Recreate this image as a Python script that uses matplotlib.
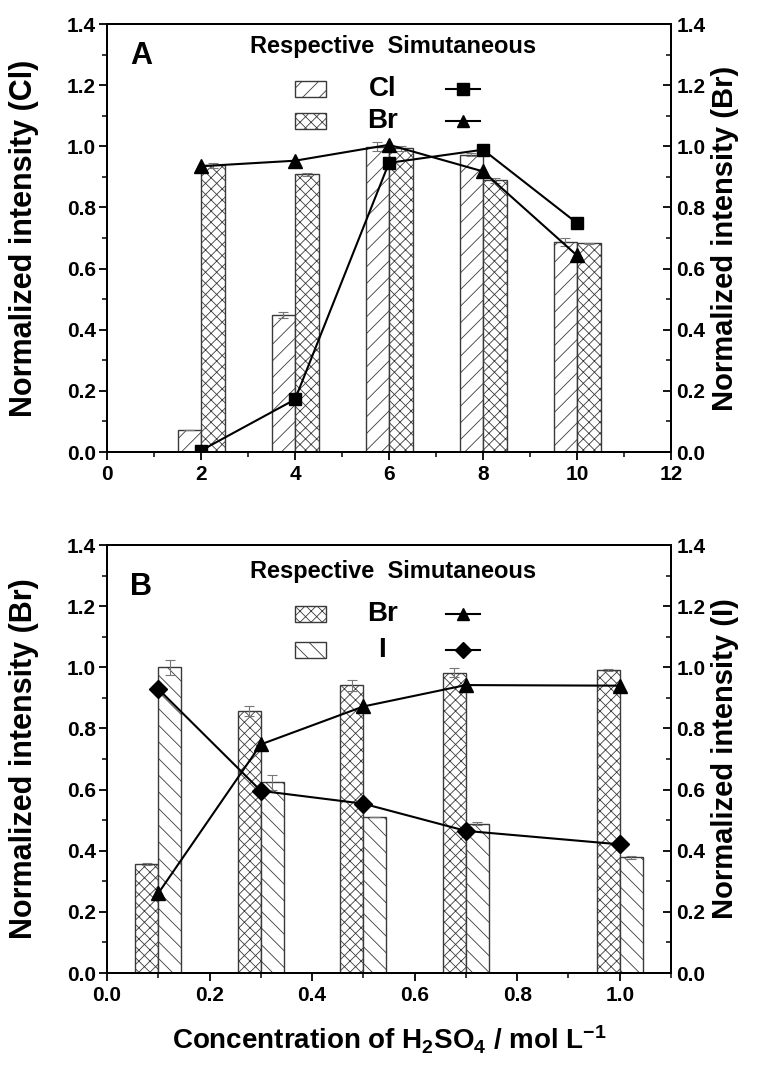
import matplotlib
matplotlib.use("Agg")
import matplotlib.pyplot as plt
from matplotlib.patches import Rectangle
from matplotlib.ticker import MultipleLocator

# panel A: H2SO4 concentration (mol/L) vs normalized intensity
conc_a = [2, 4, 6, 8, 10]
cl_resp = [0.071, 0.449, 0.999, 0.973, 0.688]
cl_resp_err = [0.0, 0.010, 0.014, 0.005, 0.013]
br_resp_a = [0.938, 0.908, 0.993, 0.889, 0.683]
br_resp_a_err = [0.008, 0.004, 0.009, 0.008, 0.002]
cl_sim = [0.005, 0.172, 0.946, 0.989, 0.749]
br_sim_a = [0.935, 0.953, 1.005, 0.918, 0.643]

# panel B
conc_b = [0.1, 0.3, 0.5, 0.7, 1.0]
br_resp_b = [0.357, 0.857, 0.941, 0.982, 0.990]
br_resp_b_err = [0.003, 0.016, 0.017, 0.015, 0.003]
i_resp = [1.0, 0.624, 0.509, 0.489, 0.378]
i_resp_err = [0.024, 0.025, 0.0, 0.004, 0.004]
br_sim_b = [0.261, 0.748, 0.872, 0.942, 0.940]
i_sim = [0.929, 0.596, 0.554, 0.465, 0.421]

yticks = [0.0, 0.2, 0.4, 0.6, 0.8, 1.0, 1.2, 1.4]

arial = ["Liberation Sans", "DejaVu Sans"]

plt.rcParams["hatch.linewidth"] = 0.6
plt.rcParams["mathtext.default"] = "regular"

EDGE = "#3a3a3a"
ERR = "#777777"


def style_axes(ax, axr, xmax, xmajor, xminor, xfmt, left_label, right_label):
    ax.set_xlim(0, xmax)
    ax.set_ylim(0, 1.4)
    axr.set_ylim(0, 1.4)
    ax.set_yticks(yticks)
    axr.set_yticks(yticks)
    ax.yaxis.set_minor_locator(MultipleLocator(0.1))
    axr.yaxis.set_minor_locator(MultipleLocator(0.1))
    ax.xaxis.set_major_locator(MultipleLocator(xmajor))
    ax.xaxis.set_minor_locator(MultipleLocator(xminor))
    ax.set_yticklabels(["%.1f" % v for v in yticks])
    axr.set_yticklabels(["%.1f" % v for v in yticks])
    ax.set_xticklabels([xfmt % v for v in ax.get_xticks()])
    ax.tick_params(axis="both", which="major", direction="out", length=6, width=1.3, top=False, right=False)
    ax.tick_params(axis="both", which="minor", direction="out", length=3.5, width=1.1, top=False, right=False)
    ax.tick_params(axis="y", which="major", pad=2)
    axr.tick_params(axis="y", which="major", direction="in", length=6, width=1.3, pad=4)
    axr.tick_params(axis="y", which="minor", direction="in", length=3.5, width=1.1)
    for a in (ax, axr):
        for lab in a.get_xticklabels() + a.get_yticklabels():
            lab.set_family(arial)
            lab.set_fontweight("bold")
            lab.set_fontsize(15)
        for s in a.spines.values():
            s.set_linewidth(1.4)
    ax.set_ylabel(left_label, family=arial, fontweight="bold", fontsize=22, labelpad=20)
    axr.set_ylabel(right_label, family=arial, fontweight="bold", fontsize=21, labelpad=4)


def draw_key(ax, letter, letter_y, rows, row_ys):
    ax.text(0.061, letter_y, letter, transform=ax.transAxes, ha="center", va="center",
            family=arial, fontweight="bold", fontsize=22)
    ax.text(0.507, row_ys[0] + 0.099, "Respective  Simutaneous", transform=ax.transAxes,
            ha="center", va="center", family=arial, fontweight="bold", fontsize=17)
    for (hatch, name, marker, ms), y in zip(rows, row_ys):
        ax.add_patch(Rectangle((0.333, y - 0.019), 0.055, 0.038, transform=ax.transAxes,
                               facecolor="white", edgecolor=EDGE, hatch=hatch, linewidth=1.0, zorder=5))
        ax.text(0.488, y, name, transform=ax.transAxes, ha="center", va="center",
                family=arial, fontweight="bold", fontsize=20, zorder=5)
        ax.plot([0.601, 0.661], [y, y], transform=ax.transAxes, color="black", lw=1.5, zorder=5)
        ax.plot([0.631], [y], transform=ax.transAxes, color="black", marker=marker, ms=ms, zorder=6)


def bars(ax, x, vals, errs, width, hatch, offset):
    pos = [v + offset for v in x]
    ax.bar(pos, vals, width, facecolor="white", edgecolor=EDGE, hatch=hatch, linewidth=1.0,
           zorder=2)
    ax.errorbar(pos, vals, yerr=errs, fmt="none", ecolor=ERR, elinewidth=0.8, capsize=3.5,
                capthick=0.8, zorder=3)


fig = plt.figure(figsize=(7.66, 10.74), dpi=100)
ax1 = fig.add_axes([0.1397, 0.5791, 0.7363, 0.3985])
ax2 = fig.add_axes([0.1397, 0.0940, 0.7363, 0.3985])
ax1r = ax1.twinx()
ax2r = ax2.twinx()

# ---- panel A
w_a = 0.5
bars(ax1, conc_a, cl_resp, cl_resp_err, w_a, "//", -w_a / 2)
bars(ax1, conc_a, br_resp_a, br_resp_a_err, w_a, "xxx", w_a / 2)
ax1r.plot(conc_a, cl_sim, color="black", lw=1.5, marker="s", ms=9, zorder=4)
ax1r.plot(conc_a, br_sim_a, color="black", lw=1.5, marker="^", ms=10, zorder=4)
style_axes(ax1, ax1r, 12, 2, 1, "%d", "Normalized intensity (Cl)", "Normalized intensity (Br)")
draw_key(ax1, "A", 0.926, [("//", "Cl", "s", 8), ("xxx", "Br", "^", 9)], [0.848, 0.773])

# ---- panel B
w_b = 0.045
bars(ax2, conc_b, br_resp_b, br_resp_b_err, w_b, "xxx", -w_b / 2)
bars(ax2, conc_b, i_resp, i_resp_err, w_b, "\\\\", w_b / 2)
ax2r.plot(conc_b, br_sim_b, color="black", lw=1.5, marker="^", ms=10, zorder=4)
ax2r.plot(conc_b, i_sim, color="black", lw=1.5, marker="D", ms=9, zorder=4)
style_axes(ax2, ax2r, 1.1, 0.2, 0.1, "%.1f", "Normalized intensity (Br)", "Normalized intensity (I)")
draw_key(ax2, "B", 0.902, [("xxx", "Br", "^", 9), ("\\\\", "I", "D", 8)], [0.839, 0.755])

fig.text(0.508, 0.032, "Concentration of H$_2$SO$_4$ / mol L$^{-1}$", ha="center", va="center",
         family=arial, fontweight="bold", fontsize=20)

fig.savefig("out.png", dpi=100)
